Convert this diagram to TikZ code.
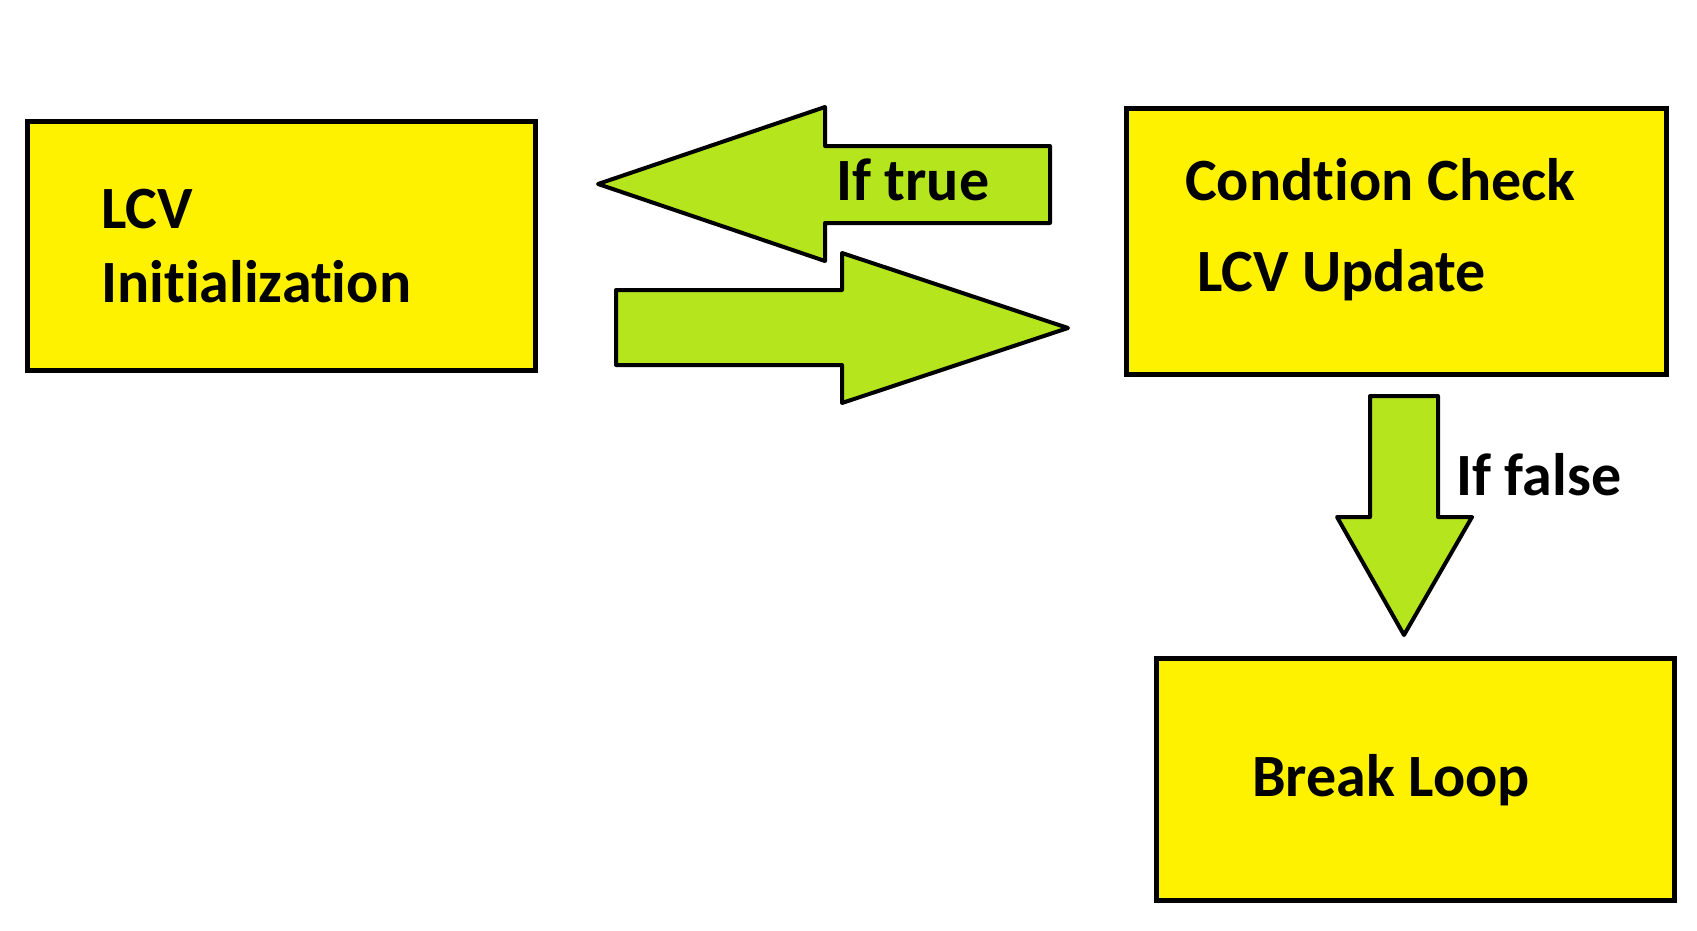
\documentclass[tikz,border=0pt]{standalone}
\usepackage{fontspec}
\setmainfont{Carlito}[Ligatures=NoCommon, RawFeature={-liga;-clig}]
\definecolor{boxyellow}{HTML}{FFF200}
\definecolor{arrowgreen}{HTML}{B5E61D}
\tikzset{
  blockbox/.style={draw=black, line width=4.5pt, fill=boxyellow},
  blockarrow/.style={draw=black, line width=4pt, fill=arrowgreen, line join=round},
  label/.style={anchor=base west, inner sep=0pt, font=\fontsize{60}{72}\selectfont\bfseries}
}
\begin{document}
\begin{tikzpicture}[x=1pt,y=-1pt]
\useasboundingbox (0,0) rectangle (1697,930);
% boxes
\node[blockbox, minimum width=508pt, minimum height=249pt, anchor=north west] (init) at (25,119) {};
\node[blockbox, minimum width=540pt, minimum height=266pt, anchor=north west] (cond) at (1124,106) {};
\node[blockbox, minimum width=518pt, minimum height=242pt, anchor=north west] (brk) at (1154,656) {};
% arrows
\draw[blockarrow] (1050,146) -- (825,146) -- (825,107) -- (598,184) -- (825,261) -- (825,223) -- (1050,223) -- cycle;
\draw[blockarrow] (616,290) -- (842,290) -- (842,253) -- (1068,328) -- (842,403) -- (842,365) -- (616,365) -- cycle;
\draw[blockarrow] (1370,396) -- (1438,396) -- (1438,517) -- (1472,517) -- (1404,635) -- (1337,517) -- (1370,517) -- cycle;
% texts
\node[label] (t1) at (101,228) {LCV};
\node[label] (t2) at (101,302) {Initialization};
\node[label] (t3) at (1185,200) {Condtion Check};
\node[label] (t4) at (1197,291) {LCV Update};
\node[label] (t5) at (1252,796) {Break Loop};
\node[label] (t6) at (836,200) {If true};
\node[label] (t7) at (1456,495) {If false};
\end{tikzpicture}
\end{document}
